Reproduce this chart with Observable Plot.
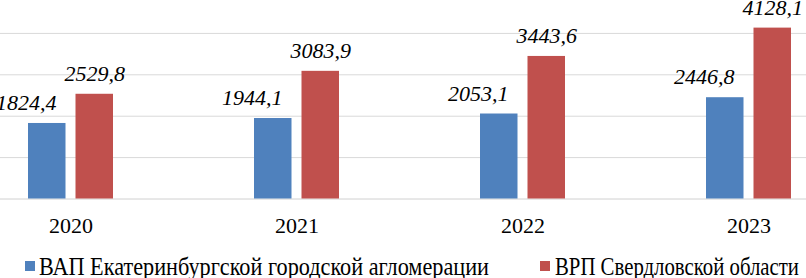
<!DOCTYPE html>
<html><head><meta charset="utf-8">
<script src="https://cdn.jsdelivr.net/npm/d3@7"></script>
<script src="https://cdn.jsdelivr.net/npm/@observablehq/plot@0.6"></script>
</head><body style="margin:0;background:#fff;">
<div id="wrap" style="position:relative;width:806px;height:278px;overflow:hidden;">
<div id="chart"></div>
<div id="legend" style="position:relative;height:38px;"></div>
</div>
<script>
const years = ["2020", "2021", "2022", "2023"];
const seriesNames = ["ВАП Екатеринбургской городской агломерации", "ВРП Свердловской области"];
const vap = [1824.4, 1944.1, 2053.1, 2446.8];
const vrp = [2529.8, 3083.9, 3443.6, 4128.1];
const gridTicks = [1000, 2000, 3000, 4000];
const colors = ["#4f81bd", "#c0504d"];

const rowsVap = years.map((y, i) => ({year: y, value: vap[i]}));
const rowsVrp = years.map((y, i) => ({year: y, value: vrp[i]}));
const fmt = v => d3.format(".1f")(v).replace(".", ",");

const step = 226.67;
const bw = 37.5, gap = 10, group = 2 * bw + gap;
const x0 = 69.5 - step / 2;
const p = 1 - group / step;

// font check: make sure a serif face is really used
const sansRefs = ["'Liberation Sans'", "'DejaVu Sans'", "'Noto Sans'", "Roboto", "'Open Sans'", "Lato", "Inter", "sans-serif", "monospace"];
const serifCands = ["'Liberation Serif'", "'Times New Roman'", "Tinos", "Times", "'Nimbus Roman'", "'DejaVu Serif'", "'Noto Serif'", "serif"];
const probeText = "ВАП Екатеринбургской 2020 Hamburgefonstiv";
function widthOf(ff, size, italic) {
  const s = document.createElement("span");
  s.style.cssText = "position:absolute;left:-9999px;top:0;white-space:nowrap;";
  s.style.fontFamily = ff;
  s.style.fontSize = size + "px";
  s.style.fontStyle = italic ? "italic" : "normal";
  s.textContent = probeText;
  document.body.appendChild(s);
  const w = s.getBoundingClientRect().width;
  s.remove();
  return w;
}
function pickFont(eps) {
  const checks = [[22 + eps, false], [22 + eps, true], [25 + eps, false]];
  const bad = checks.map(([sz, it]) => sansRefs.map(f => widthOf(f, sz, it)));
  for (const c of serifCands) {
    const ff = c + ", serif";
    const ok = checks.every(([sz, it], k) => {
      const w = widthOf(ff, sz, it);
      return w > 0 && bad[k].every(b => Math.abs(b - w) > 0.5);
    });
    if (ok) return ff;
  }
  return null;
}

function draw(ff, eps) {
  const chartDiv = document.getElementById("chart");
  const legend = document.getElementById("legend");
  chartDiv.innerHTML = "";
  legend.innerHTML = "";
  const fs = 22 + eps;
  const chart = Plot.plot({
    width: 806, height: 240,
    marginTop: 0, marginBottom: 41.5, marginLeft: 0, marginRight: 0,
    style: {fontFamily: ff, fontSize: fs + "px", color: "#000", background: "#fff", overflow: "hidden", display: "block"},
    x: {type: "band", domain: years, range: [x0, x0 + 4 * step], paddingInner: p, paddingOuter: p / 2, label: null},
    y: {domain: [0, 4795], axis: null},
    marks: [
      Plot.ruleY(gridTicks, {stroke: "#d9d9d9", strokeWidth: 1}),
      Plot.ruleY([0], {stroke: "#d0d0d0", strokeWidth: 1}),
      Plot.barY(rowsVap, {x: "year", y: "value", fill: colors[0], insetRight: bw + gap}),
      Plot.barY(rowsVrp, {x: "year", y: "value", fill: colors[1], insetLeft: bw + gap}),
      Plot.text(rowsVap, {x: "year", y: "value", text: d => fmt(d.value), dx: -(bw + gap) / 2 - 21, dy: -13.5,
        lineAnchor: "bottom", fontSize: fs, fontStyle: "italic", fill: "#000"}),
      Plot.text(rowsVrp, {x: "year", y: "value", text: d => fmt(d.value), dx: (bw + gap) / 2, dy: -13.5,
        lineAnchor: "bottom", fontSize: fs, fontStyle: "italic", fill: "#000"}),
      Plot.axisX({tickSize: 0, tickPadding: 18, fontSize: fs, label: null, fill: "#000"})
    ]
  });
  chartDiv.appendChild(chart);

  const legendPos = [{sw: 25, tx: 39, w: 450}, {sw: 540, tx: 555, w: 244}];
  seriesNames.forEach((name, i) => {
    const s = document.createElement("div");
    Object.assign(s.style, {position: "absolute", width: "10px", height: "10px", top: "21px",
      left: legendPos[i].sw + "px", background: colors[i]});
    const t = document.createElement("div");
    Object.assign(t.style, {position: "absolute", fontFamily: ff, fontSize: (25 + eps) + "px",
      lineHeight: "1", top: "14px", left: legendPos[i].tx + "px", whiteSpace: "nowrap", color: "#000",
      transformOrigin: "0 0"});
    t.textContent = name;
    legend.appendChild(s);
    legend.appendChild(t);
    const w = t.getBoundingClientRect().width;
    if (w > 0) t.style.transform = "scaleX(" + (legendPos[i].w / w) + ")";
  });
}

const t0 = performance.now();
while (performance.now() - t0 < 250) {}
let attempt = 0;
let good = null;
function tryDraw() {
  const eps = attempt * 0.01;
  attempt++;
  const f = pickFont(eps);
  if (f) { good = f; draw(f, eps); return true; }
  draw("'Liberation Serif', serif", eps);
  return false;
}
if (!tryDraw()) {
  [100, 300, 700, 1500, 2500].forEach(ms => setTimeout(() => { if (!good) tryDraw(); }, ms));
}
</script>
</body></html>
